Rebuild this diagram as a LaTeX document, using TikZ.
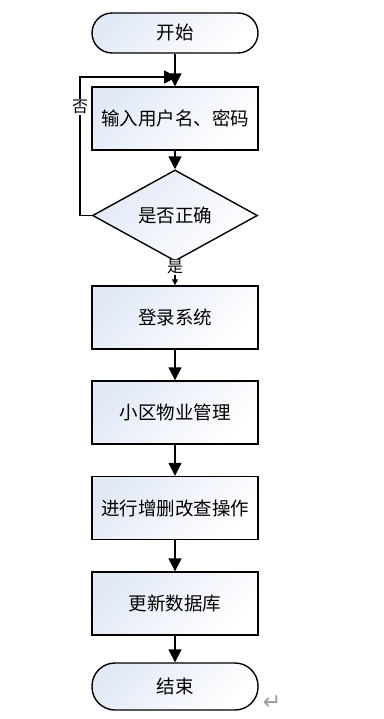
\documentclass[tikz,border=0pt]{standalone}
\usepackage{fontspec}
\setmainfont{Noto Sans CJK SC}
\newfontfamily\symfont{DejaVu Sans}
\usetikzlibrary{shapes.geometric,arrows.meta}
\definecolor{paleblue}{RGB}{226,233,246}

\begin{document}
\begin{tikzpicture}[x=1pt,y=1pt,every node/.style={font=\fontsize{18.5}{21}\selectfont},
  flowfill/.style={top color=paleblue,bottom color=white,shading angle=45},
  term/.style={draw,line width=1.4pt,flowfill,minimum width=166pt,rounded corners=20pt},
  proc/.style={draw,line width=1.4pt,flowfill,minimum width=166pt,minimum height=63pt},
  check/.style={draw,diamond,line width=1.4pt,flowfill,inner sep=0pt,minimum width=165pt,minimum height=63pt},
  flow/.style={line width=1.6pt,-{Triangle[width=13pt,length=13pt]}},
  lbl/.style={fill=white,inner sep=1pt,font=\fontsize{16}{18}\selectfont}]
\useasboundingbox (0,0) rectangle (383,-719);
% steps
\node[term,minimum height=40pt] (start) at (175,-33) {开始};
\node[proc] (input) at (175,-118.5) {输入用户名、密码};
\node[check] (ok) at (175,-215.5) {是否正确};
\node[proc] (login) at (175,-317.5) {登录系统};
\node[proc] (manage) at (175,-412.5) {小区物业管理};
\node[proc] (edit) at (175,-508) {进行增删改查操作};
\node[proc] (update) at (175,-603.5) {更新数据库};
\node[term,minimum height=47pt,rounded corners=23pt] (stop) at (175,-686.5) {结束};
\node[text=gray!80,font=\symfont\fontsize{22}{24}\selectfont] (ret) at (272,-703) {↵};
% arrows
\coordinate (join) at (177,-77);
\coordinate (back) at (80,-77);
\draw[flow] (start) -- (input);
\draw[flow] (input) -- (ok);
\draw[flow] (ok.west) -| (back) -- (join);
\node[lbl] (no) at (80,-107) {否};
\draw[line width=1.4pt,-{Triangle[width=6pt,length=6pt]}] (ok) -- (login);
\node[lbl] (yes) at (175,-267) {是};
\draw[flow] (login) -- (manage);
\draw[flow] (manage) -- (edit);
\draw[flow] (edit) -- (update);
\draw[flow] (update) -- (stop);
\end{tikzpicture}
\end{document}
